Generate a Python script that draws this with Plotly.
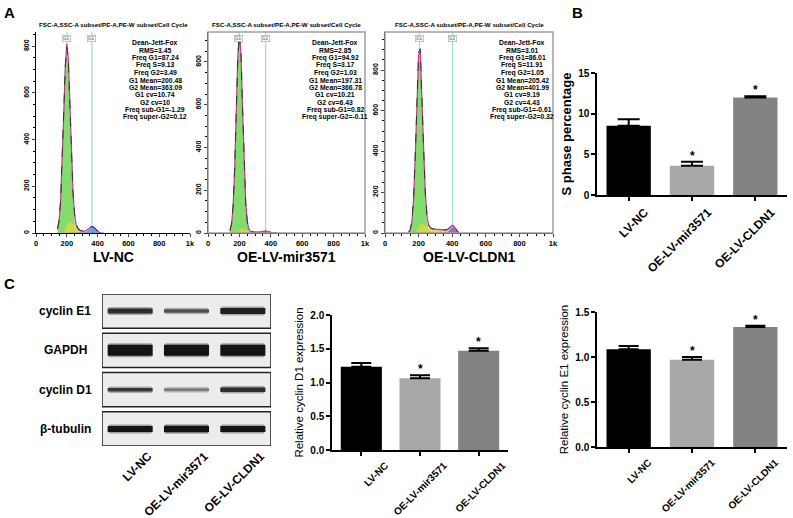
import numpy as np
import plotly.graph_objects as go

W, H = 793, 518
FONT = "Arial, Liberation Sans, sans-serif"

# ---------------- panel A : DNA content histograms ----------------
dna = [140, 150, 160, 170, 180, 190, 200, 210, 220, 230, 240, 250, 260, 270, 280, 290,
       300, 310, 320, 330, 340, 350, 360, 370, 380, 390, 400, 410, 420, 430, 440]

raw_counts = [
    [18, 55, 140, 300, 515, 712, 795, 742, 551, 346, 175, 85, 40, 22, 14, 11,
     9, 7, 10, 12, 17, 24, 28, 27, 21, 14, 8, 4, 2, 1, 0],
    [11, 45, 130, 305, 570, 830, 930, 845, 590, 325, 142, 55, 20, 9, 6, 5,
     4, 3, 3, 5, 6, 8, 11, 12, 8, 5, 3, 1, 0, 0, 0],
    [4, 15, 57, 166, 375, 660, 890, 905, 700, 415, 198, 84, 40, 26, 22, 20,
     18, 19, 16, 18, 15, 17, 15, 18, 22, 32, 45, 36, 22, 9, 3],
]
g1_fit = [
    [16, 52, 138, 295, 506, 700, 780, 700, 506, 295, 138, 52, 16, 4, 0, 0,
     0, 0, 0, 0, 0, 0, 0, 0, 0, 0, 0, 0, 0, 0, 0],
    [10, 41, 126, 302, 564, 820, 915, 820, 564, 302, 126, 41, 10, 2, 0, 0,
     0, 0, 0, 0, 0, 0, 0, 0, 0, 0, 0, 0, 0, 0, 0],
    [3, 13, 53, 161, 370, 644, 850, 850, 644, 370, 161, 53, 13, 3, 0, 0,
     0, 0, 0, 0, 0, 0, 0, 0, 0, 0, 0, 0, 0, 0, 0],
]
s_fit = [
    [0, 0, 0, 0, 2, 10, 30, 45, 50, 48, 40, 30, 22, 16, 12, 10,
     8, 7, 6, 5, 4, 3, 2, 1, 0, 0, 0, 0, 0, 0, 0],
    [0, 0, 0, 0, 1, 5, 12, 20, 22, 20, 15, 11, 8, 6, 5, 4,
     3, 3, 2, 2, 1, 1, 0, 0, 0, 0, 0, 0, 0, 0, 0],
    [0, 0, 0, 0, 3, 10, 25, 40, 45, 42, 35, 28, 24, 22, 20, 19,
     18, 17, 17, 16, 16, 15, 14, 12, 10, 8, 6, 4, 2, 1, 0],
]
g2_fit = [
    [0, 0, 0, 0, 0, 0, 0, 0, 0, 0, 0, 0, 0, 0, 0, 0,
     0, 0, 3, 7, 13, 20, 25, 25, 20, 13, 7, 3, 1, 0, 0],
    [0, 0, 0, 0, 0, 0, 0, 0, 0, 0, 0, 0, 0, 0, 0, 0,
     0, 0, 0, 2, 4, 7, 10, 10, 7, 4, 2, 0, 0, 0, 0],
    [0, 0, 0, 0, 0, 0, 0, 0, 0, 0, 0, 0, 0, 0, 0, 0,
     0, 0, 0, 0, 0, 0, 0, 3, 10, 22, 32, 30, 18, 7, 2],
]
g1_mean = [200.48, 197.31, 205.42]
g2_mean = [363.09, 366.78, 401.99]
hist_names = ["LV-NC", "OE-LV-mir3571", "OE-LV-CLDN1"]
hist_title = "FSC-A,SSC-A subset/PE-A,PE-W subset/Cell Cycle"
stats = [
    ["Dean-Jett-Fox", "RMS=3.45", "Freq G1=87.24", "Freq S=9.13", "Freq G2=3.49",
     "G1 Mean=200.48", "G2 Mean=363.09", "G1 cv=10.74", "G2 cv=10",
     "Freq sub-G1=-1.29", "Freq super-G2=0.12"],
    ["Dean-Jett-Fox", "RMS=2.85", "Freq G1=94.92", "Freq S=3.17", "Freq G2=1.03",
     "G1 Mean=197.31", "G2 Mean=366.78", "G1 cv=10.21", "G2 cv=6.43",
     "Freq sub-G1=0.82", "Freq super-G2=-0.11"],
    ["Dean-Jett-Fox", "RMS=3.01", "Freq G1=86.01", "Freq S=11.91", "Freq G2=1.05",
     "G1 Mean=205.42", "G2 Mean=401.99", "G1 cv=9.19", "G2 cv=4.43",
     "Freq sub-G1=-0.61", "Freq super-G2=0.32"],
]
hist_ticks = [0, 200, 400, 600, 800, 1000]
hist_ticktext = ["0", "200", "400", "600", "800", "1k"]
count_ticks = [0, 200, 400, 600, 800]

# ---------------- panels B / C : bar charts ----------------
groups = ["LV-NC", "OE-LV-mir3571", "OE-LV-CLDN1"]
s_phase = [8.5, 3.6, 12.0]
s_phase_err = [0.8, 0.5, 0.15]
cyclin_d1 = [1.235, 1.062, 1.47]
cyclin_d1_err = [0.054, 0.044, 0.036]
cyclin_e1 = [1.085, 0.97, 1.333]
cyclin_e1_err = [0.037, 0.03, 0.015]
significant = [False, True, True]

# ---------------- panel C : western blot ----------------
blot_proteins = ["cyclin E1", "GAPDH", "cyclin D1", "β-tubulin"]
band_thickness = [[5, 3.5, 6], [11, 11, 11], [3.5, 3, 4.5], [6, 6.5, 6]]
band_darkness = [[0.9, 0.75, 0.95], [1.0, 1.0, 1.0], [0.85, 0.55, 0.9], [1.0, 1.0, 1.0]]

bar_colors = ["#000000", "#a8a8a8", "#838383"]


def px_x(a, b):
    return [a / W, b / W]


def px_y(top, bottom):
    return [1 - bottom / H, 1 - top / H]


def ax(n):
    # axis suffix: "" for the first pair, else the number
    return "" if n == 1 else str(n)


def label(x, y, text, size, bold=True, **kw):
    # centred paper-space text
    fig.add_annotation(x=x / W, y=1 - y / H, xref="paper", yref="paper", text=text, showarrow=False,
                       xanchor="center", yanchor="middle",
                       font=dict(family=FONT, size=size, color="black", weight="bold" if bold else "normal"),
                       **kw)


fig = go.Figure()

# ---- histograms ----
hist_dom_x = [(36, 190), (208, 365), (385, 553)]
hist_top = [861, 940, 987]
stats_cx = [155, 335, 522]
g2_colors = ["rgba(80,150,225,0.85)", "rgba(150,80,200,0.85)", "rgba(150,80,200,0.85)"]

for i in range(3):
    n = i + 1
    xa, ya = "x" + ax(n), "y" + ax(n)
    fit = np.array(g1_fit[i]) + np.array(s_fit[i]) + np.array(g2_fit[i])
    fig.add_trace(go.Scatter(x=dna, y=g1_fit[i], mode="lines", fill="tozeroy",
                             fillcolor="#82dc6e", line=dict(width=0), xaxis=xa, yaxis=ya))
    fig.add_trace(go.Scatter(x=dna, y=s_fit[i], mode="lines", fill="tozeroy",
                             fillcolor="rgba(225,215,60,0.85)", line=dict(width=0), xaxis=xa, yaxis=ya))
    fig.add_trace(go.Scatter(x=dna, y=g2_fit[i], mode="lines", fill="tozeroy",
                             fillcolor=g2_colors[i], line=dict(width=0), xaxis=xa, yaxis=ya))
    fig.add_trace(go.Scatter(x=dna, y=fit, mode="lines",
                             line=dict(color="#c8338f", width=1.2), xaxis=xa, yaxis=ya))
    fig.add_trace(go.Scatter(x=dna, y=raw_counts[i], mode="lines",
                             line=dict(color="#333333", width=1, dash="dash"), xaxis=xa, yaxis=ya))

    a, b = hist_dom_x[i]
    fig.update_layout({
        "xaxis" + ax(n): dict(domain=px_x(a, b), anchor=ya, range=[0, 1000], showline=True,
                              automargin=False,
                              linecolor="black", linewidth=1, ticks="outside", ticklen=3,
                              tickvals=hist_ticks, ticktext=hist_ticktext, showgrid=False, zeroline=False,
                              tickfont=dict(family=FONT, size=7.5, color="black", weight="bold"),
                              minor=dict(ticks="outside", ticklen=2, dtick=50, tickcolor="black",
                                         showgrid=False)),
        "yaxis" + ax(n): dict(domain=px_y(32, 233), anchor=xa, range=[0, hist_top[i]], showline=True,
                              automargin=False,
                              linecolor="black", linewidth=1, ticks="outside", ticklen=3,
                              tickvals=count_ticks, tickangle=-90, showgrid=False, zeroline=False,
                              tickfont=dict(family=FONT, size=7, color="black", weight="bold"),
                              minor=dict(ticks="outside", ticklen=2, dtick=50, tickcolor="black",
                                         showgrid=False)),
    })
    if i > 0:
        fig.add_shape(type="rect", xref=xa + " domain", yref=ya + " domain", x0=0, x1=1, y0=0, y1=1,
                      line=dict(color="#a0a0a0", width=1.5))
    for gate, lab in zip([g1_mean[i], g2_mean[i]], ["G1", "G2"]):
        fig.add_shape(type="line", xref=xa, yref=ya + " domain", x0=gate, x1=gate, y0=0, y1=1,
                      line=dict(color="#9fdcdc", width=1.2), layer="below")
        fig.add_annotation(x=gate, y=0.985, xref=xa, yref=ya + " domain", text=lab, showarrow=False,
                           xanchor="center", yanchor="top", font=dict(family=FONT, size=4.5, color="#666666"),
                           bgcolor="#f4f4f4", bordercolor="#9a9a9a", borderwidth=0.5, borderpad=0.5)
    label((a + b) / 2, 24, hist_title, 6.2)
    for k, line in enumerate(stats[i]):
        label(stats_cx[i], 43 + 7.4 * k, line, 6.8)
    label((a + b) / 2, 257, hist_names[i], 14)


# ---- bar charts ----
def bar_panel(n, vals, errs, cap, dom_x, dom_y, yrange, ydtick, ytitle, tsize, title_bold, lsize, shift):
    xa, ya = f"x{n}", f"y{n}"
    fig.add_trace(go.Bar(x=groups, y=vals, width=0.7,
                         marker=dict(color=bar_colors, line=dict(width=0)),
                         error_y=dict(type="data", symmetric=False, array=errs, arrayminus=[0, 0, 0],
                                      color="black", thickness=2, width=cap),
                         xaxis=xa, yaxis=ya))
    for g, v, e, sig in zip(groups, vals, errs, significant):
        if sig:
            fig.add_annotation(x=g, y=v + e, xref=xa, yref=ya, text="*", showarrow=False,
                               xanchor="center", yanchor="bottom", yshift=-3,
                               font=dict(family=FONT, size=12, color="black", weight="bold"))
    fig.update_layout({
        f"xaxis{n}": dict(domain=px_x(*dom_x), anchor=ya, type="category", range=[-0.5, 2.5],
                          automargin=False, ticklabelshift=shift,
                          showline=True, linecolor="black", linewidth=1.5, ticks="outside", ticklen=4,
                          tickwidth=1.5, tickcolor="black", tickangle=-45, showgrid=False,
                          tickfont=dict(family=FONT, size=lsize, color="black", weight="bold")),
        f"yaxis{n}": dict(domain=px_y(*dom_y), anchor=xa, range=yrange, dtick=ydtick,
                          automargin=False,
                          showline=True, linecolor="black", linewidth=1.5, ticks="outside", ticklen=4,
                          tickwidth=1.5, tickcolor="black", showgrid=False, zeroline=False,
                          tickformat=".1f" if ydtick < 1 else "d",
                          tickfont=dict(family=FONT, size=10, color="black", weight="bold"),
                          title=dict(text=ytitle, standoff=4,
                                     font=dict(family=FONT, size=tsize, color="black",
                                               weight="bold" if title_bold else "normal"))),
    })


bar_panel(4, s_phase, s_phase_err, 11, (597, 787), (73, 195), [0, 15], 5,
          "S phase percentage", 13, True, 12, 16)
bar_panel(6, cyclin_d1, cyclin_d1_err, 10, (332, 508), (315, 450), [0, 2], 0.5,
          "Relative cyclin D1 expression", 11.5, False, 10, 24)
bar_panel(7, cyclin_e1, cyclin_e1_err, 10, (597, 787), (312, 447), [0, 1.5], 0.5,
          "Relative cyclin E1 expression", 11.5, False, 10, 20)

# ---- western blot ----
lanes = [0.5, 1.5, 2.5]
box_h = 0.87
for r, prot in enumerate(blot_proteins):
    fig.add_shape(type="rect", xref="x5", yref="y5", x0=0, x1=3, y0=r, y1=r + box_h,
                  line=dict(color="#222222", width=1.5), fillcolor="#ececec", layer="below")
    yc = r + box_h / 2
    for j, lane in enumerate(lanes):
        g = int(round(255 * (1 - 0.92 * band_darkness[r][j])))
        fig.add_trace(go.Scatter(x=[lane - 0.38, lane + 0.38], y=[yc, yc], mode="lines",
                                 line=dict(color=f"rgba({g},{g},{g},0.35)", width=band_thickness[r][j] + 3),
                                 xaxis="x5", yaxis="y5"))
        fig.add_trace(go.Scatter(x=[lane - 0.4, lane + 0.4], y=[yc, yc], mode="lines",
                                 line=dict(color=f"rgb({g},{g},{g})", width=band_thickness[r][j]),
                                 xaxis="x5", yaxis="y5"))
    fig.add_annotation(x=65 / W, y=yc, xref="paper", yref="y5", text=prot, showarrow=False,
                       xanchor="center", yanchor="middle",
                       font=dict(family=FONT, size=12, color="black", weight="bold"))

fig.update_layout(
    xaxis5=dict(domain=px_x(102, 271), anchor="y5", range=[0, 3], showline=False, showgrid=False,
                automargin=False, ticklabelshift=18,
                zeroline=False, tickvals=lanes, ticktext=groups, tickangle=-45, ticks="",
                tickfont=dict(family=FONT, size=12, color="black", weight="bold")),
    yaxis5=dict(domain=px_y(294, 446), anchor="x5", range=[3 + box_h, 0], visible=False,
                automargin=False),
)

# ---- panel letters ----
for letter, (lx, ly) in zip(["A", "B", "C"], [(9, 13), (577, 13), (9, 283)]):
    label(lx, ly, letter, 15)

fig.update_layout(width=W, height=H, margin=dict(l=0, r=0, t=0, b=0, pad=0, autoexpand=False),
                  showlegend=False, plot_bgcolor="white", paper_bgcolor="white", bargap=0.3)

fig.write_html("out.html", config={"displayModeBar": False},
               post_script="document.body.style.margin='0';document.body.style.overflow='hidden';")
